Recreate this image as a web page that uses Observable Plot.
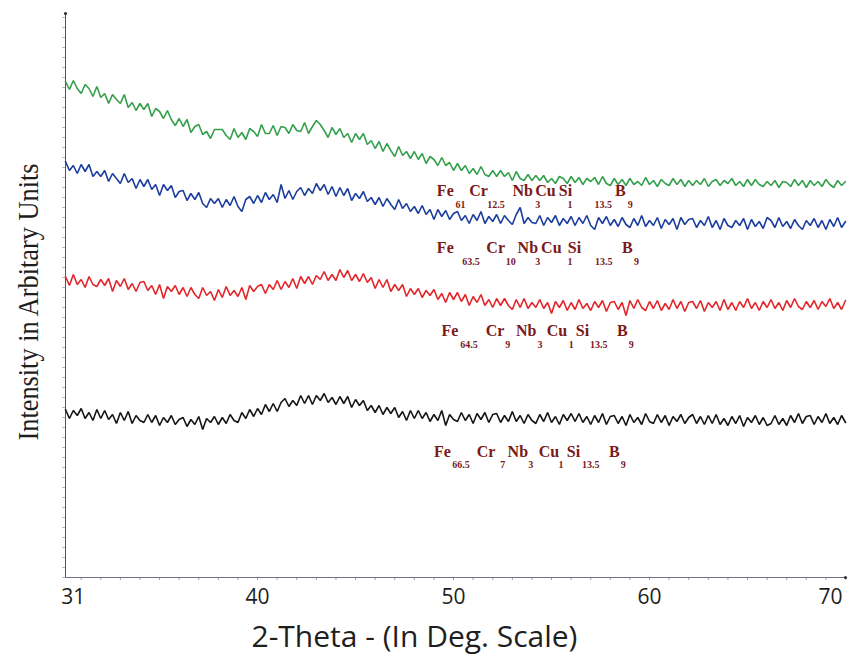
<!DOCTYPE html>
<html>
<head>
<meta charset="utf-8">
<script src="https://cdn.jsdelivr.net/npm/d3@7"></script>
<script src="https://cdn.jsdelivr.net/npm/@observablehq/plot@0.6"></script>
<style>
  html, body { margin: 0; padding: 0; background: #fff; }
</style>
</head>
<body>
<div id="chart"></div>
<script>
// ---------------- DATA ----------------
const scanStart = 30.2, scanStep = 0.2, scanCount = 200;   // 2-theta sampling grid (deg)
const angles = d3.range(scanCount).map(i => +(scanStart + scanStep * i).toFixed(1));

const alloyNames = ["Fe61Cr12.5", "Fe63.5Cr10", "Fe64.5Cr9", "Fe66.5Cr7"];

const greenSeries = [
496,488,497,489,484,493,489,481,491,480,
484,474,483,478,474,483,470,475,467,474,
468,474,461,469,466,459,467,458,452,459,
451,458,445,451,453,443,446,439,448,448,
448,442,438,449,440,445,438,449,446,441,
453,444,444,452,442,451,450,444,453,447,
446,455,444,451,457,453,447,440,450,443,
449,440,444,435,444,438,444,433,437,429,
436,426,434,427,421,431,422,426,419,426,
418,424,414,421,418,412,420,412,415,407,
414,407,412,404,409,403,411,403,401,407,
401,407,401,405,397,406,399,397,403,397,
402,397,402,395,399,394,401,399,394,401,
395,400,393,399,396,400,393,401,394,392,
399,393,398,392,399,393,396,392,400,393,
397,391,398,394,392,399,393,398,391,397,
392,397,393,399,391,396,398,392,397,394,
399,392,396,391,398,392,398,393,391,396,
392,397,390,396,395,391,398,392,397,390,
397,392,396,391,398,393,390,397,392,396];

const blueSeries = [
416,407,412,404,413,406,413,401,406,401,
407,396,404,399,394,404,395,399,389,398,
391,398,388,393,382,393,387,392,380,386,
387,377,384,378,385,374,370,379,374,379,
370,378,372,381,371,366,378,381,374,382,
375,385,378,383,375,393,379,387,378,386,
390,382,389,384,394,387,393,383,391,381,
390,382,389,377,384,379,386,376,380,373,
380,371,379,373,368,378,369,374,366,371,
364,372,363,368,358,368,361,367,358,364,
366,357,362,354,363,357,366,354,361,356,
363,354,362,357,353,363,370,354,360,355,
354,362,352,360,355,362,352,359,354,361,
352,360,354,362,352,348,360,354,361,352,
358,351,360,353,350,359,352,362,351,357,
352,360,349,358,353,359,348,360,353,358,
359,350,357,352,361,350,357,348,359,352,
350,357,352,359,348,358,351,356,349,360,
357,350,360,351,356,349,358,352,348,357,
352,359,350,357,348,358,351,360,350,356];

const redSeries = [
301,292,303,293,298,290,301,293,291,298,
292,299,286,297,291,299,288,294,286,295,
296,287,292,283,293,279,291,286,292,283,
290,281,290,283,279,290,282,286,277,288,
280,291,282,287,281,290,278,292,286,291,
293,284,293,288,297,288,296,290,299,289,
301,294,301,293,302,298,306,297,303,297,
308,300,307,297,303,296,304,295,300,289,
298,290,298,286,293,287,293,281,289,283,
289,280,287,282,288,278,284,275,285,278,
285,276,283,272,281,275,283,272,278,270,
279,272,279,272,268,278,270,279,269,275,
270,278,269,275,264,276,270,277,267,275,
268,278,269,274,267,276,270,277,266,275,
276,268,275,262,277,269,278,270,267,276,
269,277,267,274,268,278,269,276,266,275,
276,269,277,266,275,270,276,267,278,268,
275,267,276,270,279,269,275,267,276,270,
278,269,275,267,277,270,279,271,268,276,
270,277,268,276,271,279,269,275,268,277];

const blackSeries = [
168,159,167,162,169,159,165,157,168,159,
167,158,163,154,165,157,166,154,162,157,
155,163,155,162,152,160,155,162,153,158,
160,151,158,153,161,148,159,155,161,153,
160,154,163,157,155,165,159,168,161,169,
163,173,166,174,166,175,179,171,177,172,
182,174,182,173,182,177,184,175,180,173,
181,174,181,170,178,172,177,167,172,165,
172,163,170,164,170,160,166,157,167,159,
167,159,165,156,163,157,167,152,163,158,
156,165,157,163,154,164,158,165,155,163,
164,155,162,156,166,156,162,154,163,157,
154,163,156,165,155,161,153,163,157,164,
156,164,155,161,153,162,155,164,153,161,
162,154,161,152,163,155,160,153,164,156,
154,163,155,162,152,161,156,163,154,160,
163,154,161,153,162,154,163,153,159,152,
161,154,162,151,160,155,162,153,160,152,
154,162,153,159,152,162,155,164,154,161,
162,153,161,155,164,154,160,153,162,155];

const elements = ["Fe", "Cr", "Nb", "Cu", "Si", "B"];
const composition1 = ["61", "12.5", "3", "1", "13.5", "9"];
const composition2 = ["63.5", "10", "3", "1", "13.5", "9"];
const composition3 = ["64.5", "9", "3", "1", "13.5", "9"];
const composition4 = ["66.5", "7", "3", "1", "13.5", "9"];

const xTickLabels = [31, 40, 50, 60, 70];
const xTitle = "2-Theta - (In Deg. Scale)";
const yTitle = "Intensity in Arbitary Units";

// ---------------- LAYOUT / STYLE ----------------
const xDomain = [30.2, 70];
const yDomain = [0, 564];
const seriesColors = ["#34a04c", "#1b3d9e", "#e3262b", "#151515"];
const labelColor = "#7a1a1a";
const axisColor = "#6e7684";

// annotation placement (x in degrees, y in a.u.)
const annotationLayout = [
  {elX: [49.58, 51.28, 53.53, 54.69, 55.71, 58.51], numX: [50.35, 52.17, 54.30, 55.94, 57.64, 59.02], elY: 387, numY: 372.5},
  {elX: [49.58, 52.15, 53.79, 54.99, 56.17, 58.87], numX: [50.89, 52.92, 54.30, 55.94, 57.66, 59.33], elY: 329.5, numY: 315.5},
  {elX: [49.82, 52.12, 53.71, 55.28, 56.58, 58.61], numX: [50.79, 52.76, 54.41, 56.00, 57.41, 59.07], elY: 247, numY: 232.5},
  {elX: [49.43, 51.66, 53.28, 54.87, 56.12, 58.20], numX: [50.38, 52.51, 53.94, 55.48, 57.00, 58.66], elY: 126, numY: 112.5}
];
const tickLabelShift = {31: -8, 70: -15};

// ---------------- BUILD ----------------
const allSeries = [greenSeries, blueSeries, redSeries, blackSeries];
const compositions = [composition1, composition2, composition3, composition4];

const tidy = allSeries.flatMap((vals, s) =>
  vals.map((v, i) => ({angle: angles[i], intensity: v, alloy: alloyNames[s]})));

const elLabels = [], numLabels = [];
annotationLayout.forEach((L, r) => {
  elements.forEach((e, j) => elLabels.push({x: L.elX[j], y: L.elY, t: e}));
  compositions[r].forEach((c, j) => numLabels.push({x: L.numX[j], y: L.numY, t: c}));
});

const tickLabelMarks = xTickLabels.map(v => Plot.text([v], {
  x: d => d, frameAnchor: "bottom", text: d => String(d),
  dy: 20, dx: tickLabelShift[v] || 0, lineAnchor: "middle",
  fontSize: 21, fontFamily: "Open Sans", fill: "#1e1e1e"
}));

const chart = Plot.plot({
  width: 848,
  height: 656,
  marginLeft: 65,
  marginRight: 3,
  marginTop: 13,
  marginBottom: 79,
  style: {background: "#fff", overflow: "visible"},
  x: {domain: xDomain},
  y: {domain: yDomain},
  color: {domain: alloyNames, range: seriesColors},
  marks: [
    Plot.axisX({ticks: d3.range(31, 71), tickSize: 3, tickFormat: () => "", stroke: axisColor, strokeOpacity: 0.7}),
    Plot.axisY({ticks: d3.range(0, 565, 10), tickSize: 3, tickFormat: () => "", stroke: axisColor, strokeOpacity: 0.5}),
    Plot.ruleY([yDomain[0]], {stroke: axisColor, strokeWidth: 1}),
    Plot.ruleX([xDomain[0]], {stroke: "#555", strokeWidth: 1}),
    Plot.dot([[xDomain[1], yDomain[0]], [xDomain[0], yDomain[1]]], {x: d => d[0], y: d => d[1], r: 1.6, fill: "#333", stroke: null}),
    Plot.line(tidy, {x: "angle", y: "intensity", z: "alloy", stroke: "alloy", strokeWidth: 1.6, strokeLinejoin: "miter"}),
    Plot.text(elLabels, {x: "x", y: "y", text: "t", fontSize: 16, fontWeight: "bold", fontFamily: "Liberation Serif", fill: labelColor, lineAnchor: "middle"}),
    Plot.text(numLabels, {x: "x", y: "y", text: "t", fontSize: 10, fontWeight: "bold", fontFamily: "Liberation Serif", fill: labelColor, lineAnchor: "middle"}),
    ...tickLabelMarks,
    Plot.text([xTitle], {frameAnchor: "bottom", text: d => d, dx: -41, dy: 60, lineAnchor: "middle", fontSize: 30, fontFamily: "Open Sans", fill: "#1e1e1e"}),
    Plot.text([yTitle], {frameAnchor: "left", text: d => d, rotate: -90, textAnchor: "start", dx: -37, dy: 145, lineAnchor: "middle", fontSize: 30, fontFamily: "Liberation Serif", fill: "#1e1e1e"})
  ]
});

d3.select(chart).selectAll("text").each(function() {
  if (this.textContent === yTitle) {
    this.setAttribute("textLength", 277);
    this.setAttribute("lengthAdjust", "spacingAndGlyphs");
  }
});

document.getElementById("chart").appendChild(chart);
</script>
</body>
</html>
